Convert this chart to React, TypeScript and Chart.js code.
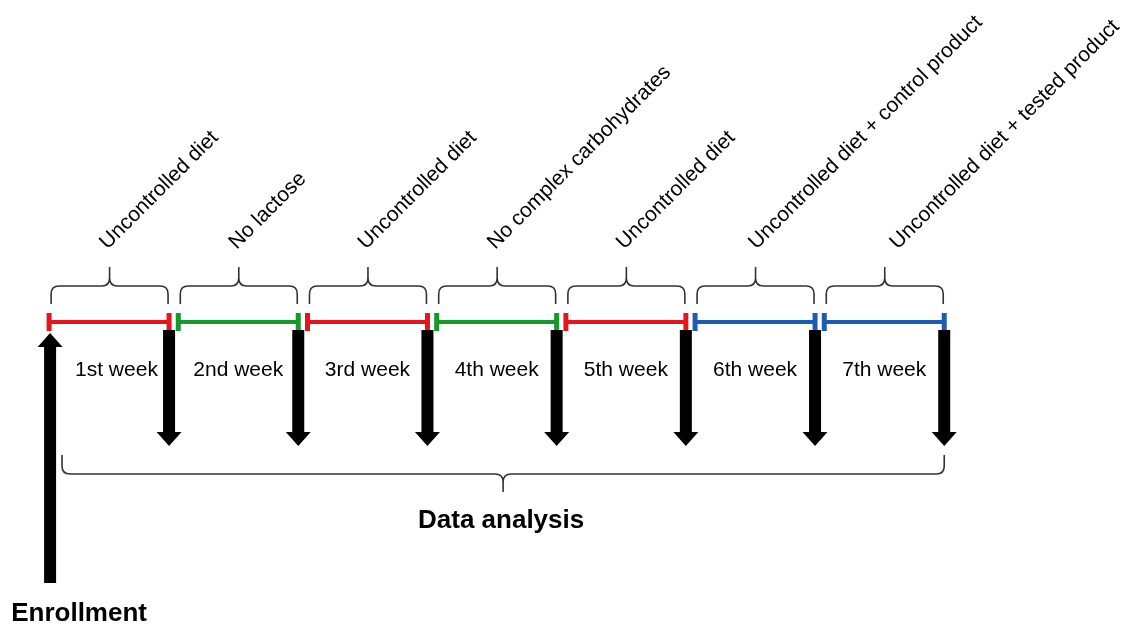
import { useEffect, useRef } from "react";
import { Chart, registerables, type ChartConfiguration, type Plugin } from "chart.js";

Chart.register(...registerables);

// timeline in days from enrollment
const PHASE_LABELS = [
  "Uncontrolled diet",
  "No lactose",
  "Uncontrolled diet",
  "No complex carbohydrates",
  "Uncontrolled diet",
  "Uncontrolled diet + control product",
  "Uncontrolled diet + tested product",
];
const PHASE_KIND = ["free", "diet", "free", "diet", "free", "product", "product"];
const PHASE_START = [0.5, 7.5, 14.5, 21.5, 28.5, 35.5, 42.5];
const PHASE_END = [7, 14, 21, 28, 35, 42, 49];
const WEEK_LABELS = ["1st week", "2nd week", "3rd week", "4th week", "5th week", "6th week", "7th week"];
const VISIT_DAYS = [7, 14, 21, 28, 35, 42, 49];
const ENROLLMENT_DAY = 0.5;
const ANALYSIS_FROM = 1.2;
const ANALYSIS_TO = 49;

const KIND_COLORS: Record<string, string> = {
  free: "#E8141C",
  diet: "#16982C",
  product: "#1B5DB3",
};

// layout (pixels on the reversed y scale)
const X_MIN = -2.16;
const X_MAX = 58.74;
const LINE_Y = 322;
const FONT = "'Liberation Sans', Arial, sans-serif";
// the last rotated label sits a little right of its brace tip in the original
const LABEL_NUDGE = [0, 0, 0, 0, 0, 3, 15];

function brace(
  ctx: CanvasRenderingContext2D,
  x1: number,
  x2: number,
  yEnd: number,
  yMid: number,
  yTip: number,
  r: number
) {
  const xc = (x1 + x2) / 2;
  const d = Math.sign(yTip - yMid); // direction of the tip
  ctx.beginPath();
  ctx.moveTo(x1, yEnd);
  ctx.lineTo(x1, yMid - d * r);
  ctx.quadraticCurveTo(x1, yMid, x1 + r, yMid);
  ctx.lineTo(xc - r, yMid);
  ctx.quadraticCurveTo(xc, yMid, xc, yMid + d * r);
  ctx.lineTo(xc, yTip);
  ctx.moveTo(xc, yMid + d * r);
  ctx.quadraticCurveTo(xc, yMid, xc + r, yMid);
  ctx.lineTo(x2 - r, yMid);
  ctx.quadraticCurveTo(x2, yMid, x2, yMid - d * r);
  ctx.lineTo(x2, yEnd);
  ctx.stroke();
}

function arrow(ctx: CanvasRenderingContext2D, x: number, yTail: number, yTip: number) {
  const shaft = 6;
  const head = 12.5;
  const headLen = 14;
  const d = Math.sign(yTip - yTail);
  const yBase = yTip - d * headLen;
  ctx.beginPath();
  ctx.moveTo(x - shaft, yTail);
  ctx.lineTo(x - shaft, yBase);
  ctx.lineTo(x - head, yBase);
  ctx.lineTo(x, yTip);
  ctx.lineTo(x + head, yBase);
  ctx.lineTo(x + shaft, yBase);
  ctx.lineTo(x + shaft, yTail);
  ctx.closePath();
  ctx.fill();
}

const annotations: Plugin<"line"> = {
  id: "timelineAnnotations",
  afterDatasetsDraw(chart) {
    const { ctx } = chart;
    const xs = chart.scales.x;
    const ys = chart.scales.y;
    const px = (d: number) => xs.getPixelForValue(d);
    const py = (v: number) => ys.getPixelForValue(v);
    ctx.save();

    // visit arrows
    ctx.fillStyle = "#000";
    VISIT_DAYS.forEach((d) => arrow(ctx, px(d), py(330), py(446)));
    arrow(ctx, px(ENROLLMENT_DAY) + 1, py(583), py(333));

    // phase braces and labels
    ctx.strokeStyle = "#333";
    ctx.lineWidth = 1.6;
    PHASE_LABELS.forEach((label, i) => {
      const x1 = px(PHASE_START[i]) + 2;
      const x2 = px(PHASE_END[i]) - 1;
      brace(ctx, x1, x2, py(304), py(286), py(267), 8);
      const xc = (x1 + x2) / 2;
      ctx.save();
      ctx.translate(xc - 2 + LABEL_NUDGE[i], py(250));
      ctx.rotate(-Math.PI / 4);
      ctx.fillStyle = "#000";
      ctx.font = `21px ${FONT}`;
      ctx.textAlign = "left";
      ctx.textBaseline = "alphabetic";
      ctx.fillText(label, 0, 0);
      ctx.restore();
    });

    // week labels
    ctx.fillStyle = "#000";
    ctx.font = `21px ${FONT}`;
    ctx.textAlign = "center";
    ctx.textBaseline = "middle";
    WEEK_LABELS.forEach((label, i) => {
      const mid = (PHASE_START[i] + PHASE_END[i]) / 2 + (i === 0 ? 0.4 : 0);
      ctx.fillText(label, px(mid), py(370));
    });

    // data analysis brace
    brace(ctx, px(ANALYSIS_FROM), px(ANALYSIS_TO), py(455), py(474), py(492), 8);
    ctx.font = `bold 26px ${FONT}`;
    ctx.fillText("Data analysis", px((ANALYSIS_FROM + ANALYSIS_TO) / 2) - 2, py(521));

    ctx.font = `bold 26px ${FONT}`;
    ctx.fillText("Enrollment", px(ENROLLMENT_DAY) + 30, py(614));

    ctx.restore();
  },
};

export default function App() {
  const canvasRef = useRef<HTMLCanvasElement>(null);

  useEffect(() => {
    if (!canvasRef.current) return;
    const config: ChartConfiguration<"line"> = {
      type: "line",
      data: {
        datasets: PHASE_LABELS.map((label, i) => {
          const color = KIND_COLORS[PHASE_KIND[i]];
          return {
            label,
            data: [
              { x: PHASE_START[i], y: LINE_Y },
              { x: PHASE_END[i], y: LINE_Y },
            ],
            borderColor: color,
            backgroundColor: color,
            borderWidth: 4,
            pointStyle: "line",
            pointRotation: 90,
            pointRadius: 9,
            pointBorderWidth: 5,
            pointBorderColor: color,
            fill: false,
          };
        }),
      },
      options: {
        animation: false,
        responsive: true,
        maintainAspectRatio: false,
        layout: { padding: 0, autoPadding: false },
        scales: {
          x: { type: "linear", min: X_MIN, max: X_MAX, display: false },
          y: { type: "linear", min: 0, max: 624, reverse: true, display: false },
        },
        plugins: { legend: { display: false }, tooltip: { enabled: false } },
        events: [],
      },
      plugins: [annotations],
    };
    const chart = new Chart(canvasRef.current, config);
    return () => chart.destroy();
  }, []);

  return (
    <div style={{ position: "fixed", left: 0, top: 0, width: 1124, height: 624, background: "#fff" }}>
      <canvas ref={canvasRef} role="img" aria-label="Study timeline: seven weekly diet phases with visits" />
    </div>
  );
}
